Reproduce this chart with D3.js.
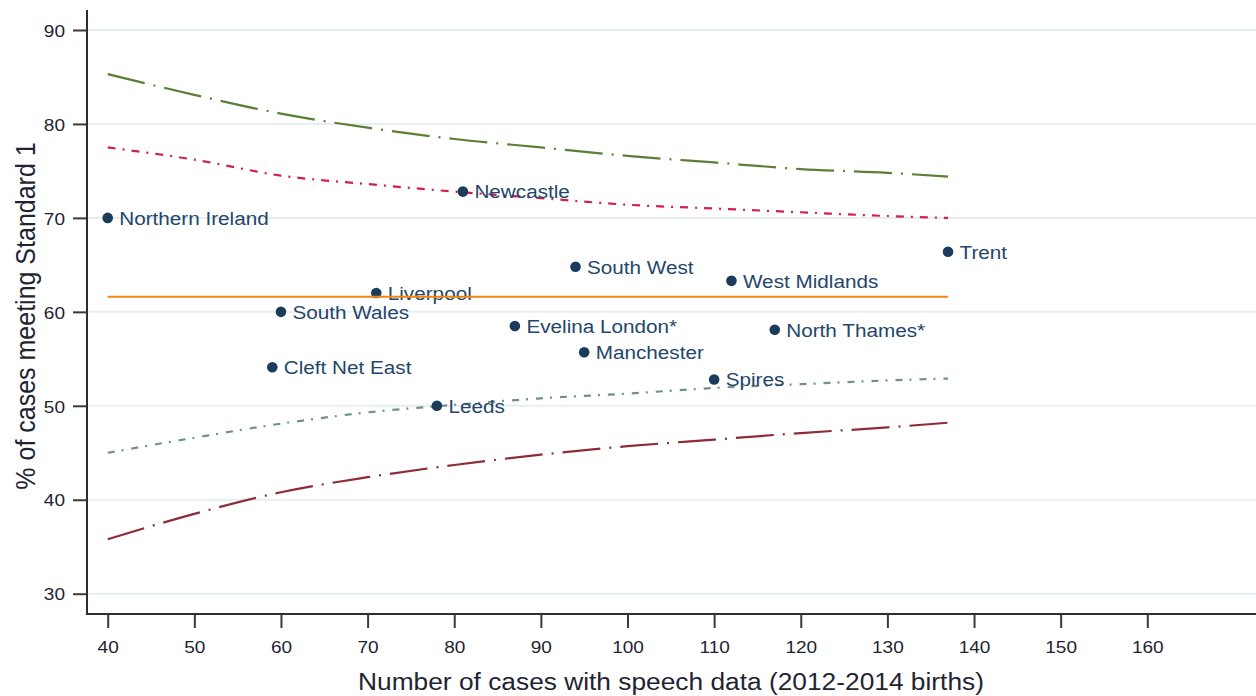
<!DOCTYPE html>
<html>
<head>
<meta charset="utf-8">
<script src="https://cdn.jsdelivr.net/npm/d3@7"></script>
<style>
  html, body { margin: 0; padding: 0; background: #fff; }
  svg { display: block; font-family: "Liberation Sans", Arial, sans-serif; }
</style>
</head>
<body>
<svg id="chart" width="1256" height="696"></svg>
<script>
// ---------- data ----------
const units = ["Northern Ireland", "Newcastle", "Trent", "South West", "West Midlands", "Liverpool",
               "South Wales", "Evelina London*", "North Thames*", "Manchester", "Cleft Net East", "Spires", "Leeds"];
const cases = [40, 81, 137, 94, 112, 71, 60, 87, 117, 95, 59, 110, 78];
const pctMeeting = [70.0, 72.8, 66.4, 64.8, 63.3, 62.0, 60.0, 58.5, 58.1, 55.7, 54.1, 52.8, 50.0];

const meanValue = 61.6;
const meanRange = [40, 137];

const limitX = [40, 50, 60, 70, 80, 90, 100, 110, 120, 130, 137];
const upper998 = [85.3, 83.1, 81.1, 79.6, 78.4, 77.5, 76.6, 75.9, 75.2, 74.8, 74.4];
const upper95  = [77.5, 76.2, 74.5, 73.6, 72.8, 72.1, 71.4, 71.0, 70.6, 70.2, 70.0];
const lower95  = [45.0, 46.6, 48.1, 49.3, 50.1, 50.8, 51.3, 51.9, 52.3, 52.7, 52.9];
const lower998 = [35.8, 38.5, 40.8, 42.4, 43.7, 44.8, 45.7, 46.4, 47.1, 47.7, 48.2];

const xTicks = [40, 50, 60, 70, 80, 90, 100, 110, 120, 130, 140, 150, 160];
const yTicks = [30, 40, 50, 60, 70, 80, 90];

const xTitle = "Number of cases with speech data (2012-2014 births)";
const yTitle = "% of cases meeting Standard 1";

// ---------- layout ----------
const axisLeftX = 87, axisBottomY = 614, plotRight = 1256, plotTop = 10;
const x = d3.scaleLinear().domain([40, 160]).range([107.7, 1147.3]);
const y = d3.scaleLinear().domain([30, 90]).range([593.7, 30]);

const svg = d3.select("#chart");
const TXT = "#1f2433";
const LBL = "#24466b";
const PT = "#1b3b5c";

// gridlines
svg.append("g").selectAll("line").data(yTicks).join("line")
  .attr("x1", axisLeftX).attr("x2", plotRight)
  .attr("y1", d => y(d)).attr("y2", d => y(d))
  .attr("stroke", "#e6eef2").attr("stroke-width", 2);

// limit curves
const line = d3.line().x(d => x(d[0])).y(d => y(d[1])).curve(d3.curveMonotoneX);
const curves = [
  { vals: upper998, color: "#5b7f36", dash: "38,9,2,9" },
  { vals: upper95,  color: "#d0204c", dash: "8,7,2,7" },
  { vals: lower95,  color: "#6e9284", dash: "7,7,2,8" },
  { vals: lower998, color: "#8e2b36", dash: "38,9,2,9" }
];
svg.append("g").selectAll("path").data(curves).join("path")
  .attr("d", c => line(limitX.map((xv, i) => [xv, c.vals[i]])))
  .attr("fill", "none")
  .attr("stroke", c => c.color)
  .attr("stroke-width", 2.2)
  .attr("stroke-dasharray", c => c.dash);

// points
const pts = units.map((u, i) => ({ name: u, n: cases[i], p: pctMeeting[i] }));
svg.append("g").selectAll("circle").data(pts).join("circle")
  .attr("cx", d => x(d.n)).attr("cy", d => y(d.p)).attr("r", 5.3)
  .attr("fill", PT);

// labels
svg.append("g").selectAll("text").data(pts).join("text")
  .attr("transform", d => `translate(${x(d.n) + 11.5},${y(d.p) + 6.8}) scale(1.09,1)`)
  .attr("font-size", 19)
  .attr("fill", LBL)
  .text(d => d.name);

// mean line
svg.append("line")
  .attr("x1", x(meanRange[0])).attr("x2", x(meanRange[1]))
  .attr("y1", y(meanValue)).attr("y2", y(meanValue))
  .attr("stroke", "#f0870f").attr("stroke-width", 2);

// axes
const yAxisG = svg.append("g").attr("transform", `translate(${axisLeftX},0)`)
  .call(d3.axisLeft(y).tickValues(yTicks).tickSize(14).tickSizeOuter(0));
yAxisG.select(".domain").remove();
yAxisG.selectAll(".tick line").attr("stroke", "#3a3a3a").attr("stroke-width", 2);
yAxisG.selectAll(".tick text")
  .attr("x", null).attr("dy", null)
  .attr("transform", "translate(-22,6.2) scale(1.12,1)")
  .attr("font-size", 17).attr("fill", TXT)
  .attr("font-family", "'Liberation Sans', Arial, sans-serif");

const xAxisG = svg.append("g").attr("transform", `translate(0,${axisBottomY})`)
  .call(d3.axisBottom(x).tickValues(xTicks).tickSize(14).tickSizeOuter(0));
xAxisG.select(".domain").remove();
xAxisG.selectAll(".tick line").attr("stroke", "#3a3a3a").attr("stroke-width", 2);
xAxisG.selectAll(".tick text")
  .attr("y", null).attr("dy", null)
  .attr("transform", "translate(0,38.5) scale(1.12,1)")
  .attr("font-size", 17).attr("fill", TXT)
  .attr("font-family", "'Liberation Sans', Arial, sans-serif");

// axis lines
svg.append("line").attr("x1", axisLeftX).attr("x2", axisLeftX)
  .attr("y1", plotTop).attr("y2", axisBottomY + 1)
  .attr("stroke", "#2e2e2e").attr("stroke-width", 2);
svg.append("line").attr("x1", axisLeftX - 1).attr("x2", plotRight)
  .attr("y1", axisBottomY).attr("y2", axisBottomY)
  .attr("stroke", "#2e2e2e").attr("stroke-width", 2);

// titles
svg.append("text")
  .attr("transform", "translate(671,690) scale(1.12,1)")
  .attr("text-anchor", "middle").attr("font-size", 23.5).attr("fill", TXT)
  .text(xTitle);
svg.append("text")
  .attr("transform", "translate(35,316) rotate(-90) scale(1,1.12)")
  .attr("text-anchor", "middle").attr("font-size", 25).attr("fill", TXT)
  .text(yTitle);
</script>
</body>
</html>
